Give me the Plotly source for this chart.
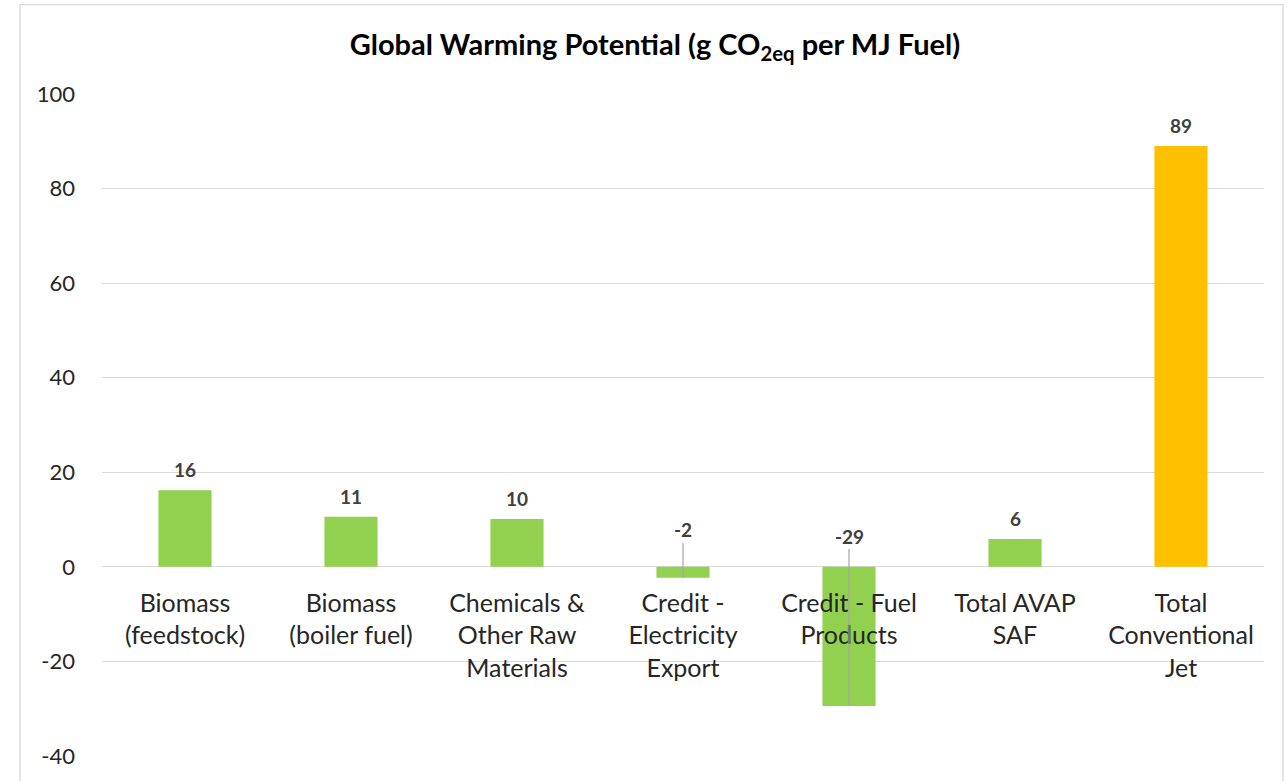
import plotly.graph_objects as go

categories = [
    "Biomass<br>(feedstock)",
    "Biomass<br>(boiler fuel)",
    "Chemicals &<br>Other Raw<br>Materials",
    "Credit -<br>Electricity<br>Export",
    "Credit - Fuel<br>Products",
    "Total AVAP<br>SAF",
    "Total<br>Conventional<br>Jet",
]
values = [16.2, 10.6, 10.1, -2.3, -29.4, 5.9, 89.0]
bar_colors = ["#92D050", "#92D050", "#92D050", "#92D050", "#92D050", "#92D050", "#FFC000"]
y_ticks = [-40, -20, 0, 20, 40, 60, 80, 100]
title_text = "Global Warming Potential (g CO<sub>2eq</sub> per MJ Fuel)"

FONT = "Lato"
y_min, y_max = -40, 100
W, H = 1288, 781
ML, MR, MT, MB = 102, 24, 94, 21

fig = go.Figure()
fig.add_trace(go.Bar(
    x=categories, y=values, marker=dict(color=bar_colors, line=dict(width=0)),
    hoverinfo="skip", showlegend=False,
))

annotations = []
for c, v in zip(categories, values):
    label = str(int(round(v)))
    if v >= 0:
        annotations.append(dict(
            x=c, y=v, xref="x", yref="y", text=f"<b>{label}</b>", showarrow=False,
            yanchor="bottom", yshift=7, font=dict(family=FONT, size=19, color="#404040"),
        ))
    else:
        # leader line from label (placed above the zero line) to the bar end
        label_y = 7.8 if v > -10 else 6.5
        annotations.append(dict(
            x=c, y=v, xref="x", yref="y", text=f"<b>{label}</b>", showarrow=True,
            arrowhead=0, arrowwidth=1.2, arrowcolor="#a6a6a6", standoff=0,
            ax=c, ay=label_y, axref="x", ayref="y",
            font=dict(family=FONT, size=19, color="#404040"),
        ))

pw, ph = W - ML - MR, H - MT - MB
fig.update_layout(
    width=W, height=H,
    margin=dict(l=ML, r=MR, t=MT, b=MB),
    paper_bgcolor="white", plot_bgcolor="white",
    bargap=0.68,
    title=dict(text=f"<b>{title_text}</b>", x=0.5085, xref="container", xanchor="center",
               y=1 - 45 / H, yref="container", yanchor="middle",
               font=dict(family=FONT, size=29, color="#000000")),
    xaxis=dict(
        type="category", anchor="free", position=(0 - y_min) / (y_max - y_min),
        showgrid=False, showline=False, zeroline=False, ticks="",
        tickfont=dict(family=FONT, size=25, color="#262626"), ticklabelstandoff=19,
        fixedrange=True,
    ),
    yaxis=dict(
        range=[y_min, y_max], tickvals=y_ticks, ticktext=[str(t) for t in y_ticks],
        showgrid=True, gridcolor="#d9d9d9",
        gridwidth=1.3, zeroline=True, zerolinecolor="#d9d9d9", zerolinewidth=1.3,
        showline=False, ticks="", ticklabelstandoff=26,
        tickfont=dict(family=FONT, size=22, color="#262626"), fixedrange=True,
    ),
    annotations=annotations,
    shapes=[dict(type="rect", xref="paper", yref="paper",
                 x0=(20 - ML) / pw, x1=(1283 - ML) / pw,
                 y0=-0.2, y1=(H - 4 - MB) / ph,
                 line=dict(color="#d9d9d9", width=1.3), fillcolor="rgba(0,0,0,0)",
                 layer="below")],
)

fig.write_html("out.html")
